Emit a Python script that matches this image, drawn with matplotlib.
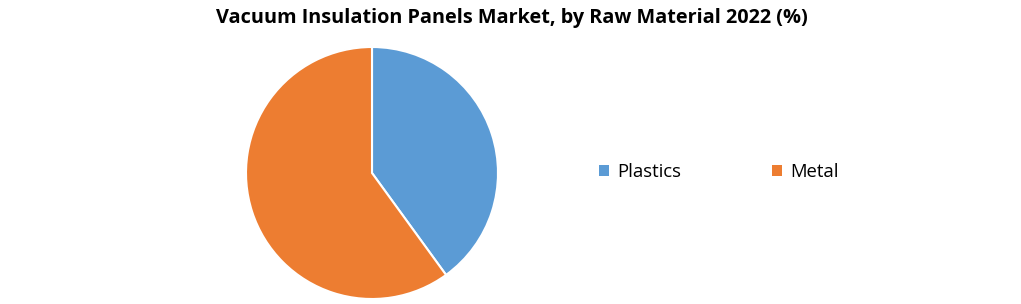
import matplotlib.pyplot as plt
from matplotlib.patches import Patch

labels = ["Plastics", "Metal"]
values = [40, 60]
colors = ["#5B9BD5", "#ED7D31"]

W, H = 1021, 304
fig = plt.figure(figsize=(W/100, H/100), dpi=100)
plt.rcParams['font.family'] = ['Open Sans', 'DejaVu Sans']

cx, cy, r = 372, 173, 126
ax = fig.add_axes([(cx - r)/W, (H - cy - r)/H, 2*r/W, 2*r/H])
ax.pie(values, colors=colors, startangle=90, counterclock=False,
       wedgeprops=dict(edgecolor='white', linewidth=1.5))
ax.set_xlim(-1, 1); ax.set_ylim(-1, 1)
ax.set_aspect('equal')
ax.axis('off')

fig.text(512/W, 1 - 18/H, "Vacuum Insulation Panels Market, by Raw Material 2022 (%)",
         ha='center', va='center', fontsize=14.3, fontweight='bold')

handles = [Patch(facecolor=c, edgecolor='none') for c in colors]
fig.legend(handles, labels, loc='center', bbox_to_anchor=(719/W, 1 - 172/H),
           ncol=2, frameon=False, fontsize=13.3, handlelength=0.55, handleheight=0.55,
           handletextpad=0.45, columnspacing=4.9)

fig.savefig("out.png", dpi=100)
